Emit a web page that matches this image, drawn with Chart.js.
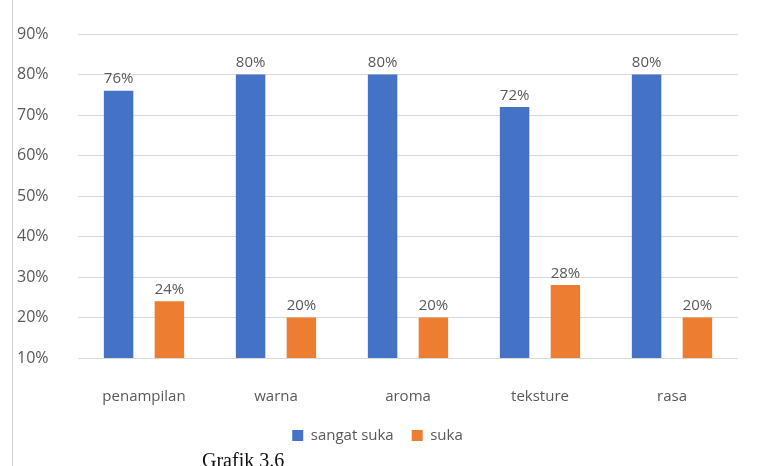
<!DOCTYPE html>
<html>
<head>
<meta charset="utf-8">
<script src="https://cdn.jsdelivr.net/npm/chart.js@4"></script>
<style>
  body { margin: 0; background: #fff; }
  #wrap { position: relative; width: 761px; height: 466px; overflow: hidden; }
  #edge { position: absolute; left: 12px; top: 0; width: 0; height: 466px; border-left: 1px solid #d0d0d0; }
  #caption { position: absolute; left: 202px; top: 449px; font-family: "Liberation Serif", serif; font-size: 20px; color: #111; }
</style>
</head>
<body>
<div id="wrap">
  <canvas id="myChart" width="761" height="466"></canvas>
  <div id="edge"></div>
  <div id="caption">Grafik 3.6</div>
</div>
<script>
const categories = ["penampilan", "warna", "aroma", "teksture", "rasa"];
const sangatSuka = [76, 80, 80, 72, 80];
const suka = [24, 20, 20, 28, 20];
const yTicks = [10, 20, 30, 40, 50, 60, 70, 80, 90];

const textColor = "#595959";
const ctx = document.getElementById("myChart");

// labels au-dessus des barres
const valueLabels = {
  id: "valueLabels",
  afterDatasetsDraw(chart) {
    const c = chart.ctx;
    c.save();
    c.font = "15px 'Open Sans'";
    c.fillStyle = textColor;
    c.textAlign = "center";
    c.textBaseline = "bottom";
    chart.data.datasets.forEach((ds, i) => {
      chart.getDatasetMeta(i).data.forEach((bar, j) => {
        c.fillText(ds.data[j] + "%", bar.x, bar.y - 4);
      });
    });
    c.restore();
  }
};

const config = {
  type: "bar",
  data: {
    labels: categories,
    datasets: [
      { label: "sangat suka", data: sangatSuka, backgroundColor: "#4472C4", barPercentage: 0.58, categoryPercentage: 0.77 },
      { label: "suka", data: suka, backgroundColor: "#ED7D31", barPercentage: 0.58, categoryPercentage: 0.77 }
    ]
  },
  options: {
    responsive: false,
    animation: false,
    layout: { padding: { left: 17, right: 23, top: 34, bottom: 13 } },
    scales: {
      y: {
        min: 10,
        max: 90,
        afterBuildTicks: (axis) => { axis.ticks = yTicks.map(v => ({ value: v })); },
        afterFit: (axis) => { axis.width = 61; },
        border: { display: false },
        grid: { color: "#d9d9d9", drawTicks: false },
        ticks: {
          color: textColor,
          padding: 18,
          crossAlign: "far",
          font: { family: "Open Sans", size: 16 },
          callback: (v) => v + "%"
        }
      },
      x: {
        border: { display: false },
        grid: { display: false },
        afterFit: (axis) => { axis.height = 52; },
        ticks: { color: textColor, padding: 22, font: { family: "Open Sans", size: 15 } }
      }
    },
    plugins: {
      legend: {
        position: "bottom",
        labels: {
          color: textColor,
          boxWidth: 11,
          boxHeight: 11,
          padding: 18,
          font: { family: "Open Sans", size: 15 }
        }
      },
      tooltip: { enabled: false }
    }
  },
  plugins: [valueLabels]
};

const graph = new Chart(ctx, config);
</script>
</body>
</html>
